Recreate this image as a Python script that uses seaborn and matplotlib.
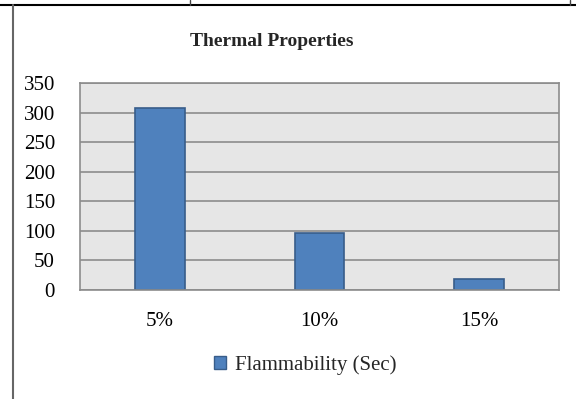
import matplotlib
matplotlib.use("Agg")
import matplotlib.pyplot as plt
import seaborn as sns
import pandas as pd
from matplotlib.lines import Line2D
from matplotlib.patches import Patch

# data
categories = ["5%", "10%", "15%"]
flammability = [308, 96, 18]
series_name = "Flammability (Sec)"

df = pd.DataFrame({"cat": categories, "val": flammability})

sns.set_style("white")
plt.rcParams["font.family"] = ["Liberation Serif", "DejaVu Serif"]

W, H = 576, 399
fig = plt.figure(figsize=(W / 100, H / 100), dpi=100)
ax = fig.add_axes([80 / W, 1 - 290 / H, 479 / W, 207 / H])

sns.barplot(data=df, x="cat", y="val", color="#4f81bd", width=0.31,
            edgecolor="#385d8a", linewidth=1.2, saturation=1, ax=ax)

ax.set_facecolor("#e6e6e6")
ax.set_ylim(0, 350)
ax.set_yticks(range(0, 351, 50))
ax.set_xlim(-0.5, 2.5)
ax.yaxis.grid(True, color="#8c8c8c", linewidth=1.2)
ax.set_axisbelow(True)
for s in ax.spines.values():
    s.set_color("#8c8c8c")
    s.set_linewidth(1.2)
ax.set_xlabel("")
ax.set_ylabel("")
ax.tick_params(axis="both", length=0, labelsize=15, colors="black")
ax.tick_params(axis="x", pad=16)
ax.tick_params(axis="y", pad=18)

fig.text(272 / W, 1 - 41 / H, "Thermal Properties", ha="center", va="center",
         fontsize=14, fontweight="bold")

handle = Patch(facecolor="#4f81bd", edgecolor="#385d8a", label=series_name)
fig.legend(handles=[handle], loc="center", bbox_to_anchor=(305 / W, 1 - 365 / H),
           frameon=False, fontsize=15, handlelength=0.6, handleheight=0.6,
           handletextpad=0.4)

# table cell borders around the figure
fig.add_artist(Line2D([0, 1], [1 - 5 / H, 1 - 5 / H], color="black", linewidth=1.5))
fig.add_artist(Line2D([13 / W, 13 / W], [0, 1 - 5 / H], color="#666666", linewidth=1.5))
for xp in (190, 570):
    fig.add_artist(Line2D([xp / W, xp / W], [1 - 5 / H, 1], color="#444444", linewidth=1))

fig.savefig("out.png", dpi=100)
